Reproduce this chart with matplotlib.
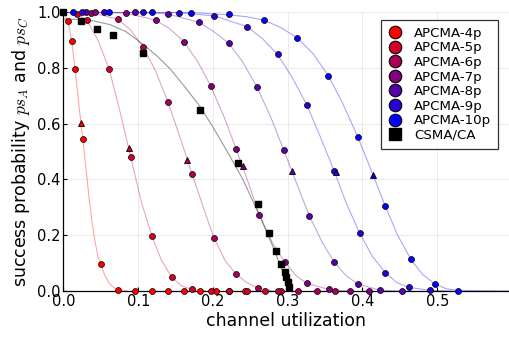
import matplotlib
matplotlib.use("Agg")
import matplotlib.pyplot as plt
from matplotlib.lines import Line2D

plt.rcParams['font.family'] = ['DejaVu Sans']
plt.rcParams['mathtext.fontset'] = 'cm'

# series names and colours (red -> blue)
labels = ['APCMA-4p', 'APCMA-5p', 'APCMA-6p', 'APCMA-7p', 'APCMA-8p', 'APCMA-9p', 'APCMA-10p']
colors = ['#ff0000', '#d5002a', '#aa0055', '#80007f', '#5500aa', '#2a00d5', '#0000ff']

# measured points (circles): channel utilization / success probability
x_4p = [0.006, 0.011, 0.0154, 0.0257, 0.0497, 0.073, 0.096, 0.118, 0.140, 0.161, 0.183, 0.204, 0.222, 0.243]
y_4p = [0.968, 0.897, 0.796, 0.546, 0.097, 0.005, 0, 0, 0, 0, 0, 0, 0, 0]
x_5p = [0.0184, 0.0313, 0.061, 0.090, 0.1184, 0.1449, 0.172, 0.197, 0.221, 0.246, 0.269, 0.291]
y_5p = [0.993, 0.970, 0.796, 0.480, 0.196, 0.049, 0.006, 0, 0, 0, 0, 0]
x_6p = [0.037, 0.073, 0.106, 0.1396, 0.172, 0.2016, 0.231, 0.260, 0.287, 0.3135, 0.339, 0.363]
y_6p = [0.998, 0.974, 0.876, 0.678, 0.419, 0.189, 0.06, 0.012, 0, 0, 0, 0]
x_7p = [0.0428, 0.0839, 0.1231, 0.161, 0.1967, 0.231, 0.262, 0.296, 0.326, 0.3546, 0.383, 0.409]
y_7p = [0.999, 0.996, 0.971, 0.894, 0.736, 0.509, 0.274, 0.105, 0.027, 0.006, 0, 0]
x_8p = [0.0304, 0.095, 0.1396, 0.1812, 0.221, 0.259, 0.2947, 0.329, 0.362, 0.3936, 0.4234, 0.4523]
y_8p = [1.0, 0.999, 0.993, 0.963, 0.888, 0.730, 0.505, 0.269, 0.104, 0.025, 0.003, 0]
x_9p = [0.025, 0.0548, 0.106, 0.155, 0.202, 0.2457, 0.2863, 0.3255, 0.362, 0.396, 0.4304, 0.4618, 0.4909]
y_9p = [1.0, 1.0, 0.999, 0.997, 0.986, 0.947, 0.848, 0.667, 0.431, 0.209, 0.066, 0.013, 0.002]
x_10p = [0.0124, 0.0606, 0.118, 0.171, 0.221, 0.268, 0.3126, 0.3545, 0.3936, 0.4304, 0.4646, 0.497, 0.528]
y_10p = [1.0, 1.0, 1.0, 0.998, 0.993, 0.971, 0.908, 0.771, 0.553, 0.305, 0.114, 0.025, 0.0]

# fitted curves
cx_4p = [0, 0.006, 0.011, 0.0154, 0.0205, 0.0257, 0.030, 0.034, 0.038, 0.042, 0.046, 0.0497, 0.055, 0.060, 0.065, 0.070, 0.075, 0.085]
cy_4p = [1.0, 0.968, 0.897, 0.796, 0.67, 0.546, 0.44, 0.34, 0.25, 0.18, 0.125, 0.097, 0.058, 0.033, 0.017, 0.008, 0.003, 0.0]
cx_5p = [0, 0.0184, 0.0313, 0.046, 0.061, 0.075, 0.090, 0.104, 0.1184, 0.131, 0.1449, 0.158, 0.172, 0.19]
cy_5p = [1.0, 0.993, 0.970, 0.90, 0.796, 0.65, 0.48, 0.32, 0.196, 0.11, 0.049, 0.018, 0.006, 0.0]
cx_6p = [0, 0.037, 0.073, 0.09, 0.106, 0.123, 0.1396, 0.156, 0.172, 0.187, 0.2016, 0.216, 0.231, 0.245, 0.260, 0.28]
cy_6p = [1.0, 0.998, 0.974, 0.935, 0.876, 0.79, 0.678, 0.55, 0.419, 0.30, 0.189, 0.11, 0.06, 0.03, 0.012, 0.0]
cx_7p = [0, 0.0428, 0.0839, 0.1231, 0.142, 0.161, 0.18, 0.1967, 0.214, 0.231, 0.247, 0.262, 0.28, 0.296, 0.311, 0.326, 0.3546, 0.38]
cy_7p = [1.0, 0.999, 0.996, 0.971, 0.94, 0.894, 0.82, 0.736, 0.63, 0.509, 0.39, 0.274, 0.17, 0.105, 0.055, 0.027, 0.006, 0.0]
cx_8p = [0, 0.0486, 0.095, 0.1396, 0.1812, 0.201, 0.221, 0.24, 0.259, 0.277, 0.2947, 0.312, 0.329, 0.346, 0.362, 0.378, 0.3936, 0.4234, 0.45]
cy_8p = [1.0, 1.0, 0.999, 0.993, 0.963, 0.93, 0.888, 0.82, 0.730, 0.625, 0.505, 0.385, 0.269, 0.175, 0.104, 0.055, 0.025, 0.003, 0.0]
cx_9p = [0, 0.0548, 0.106, 0.155, 0.202, 0.2457, 0.266, 0.2863, 0.306, 0.3255, 0.344, 0.362, 0.379, 0.396, 0.413, 0.4304, 0.446, 0.4618, 0.4909, 0.52]
cy_9p = [1.0, 1.0, 0.999, 0.997, 0.986, 0.947, 0.905, 0.848, 0.765, 0.667, 0.55, 0.431, 0.31, 0.209, 0.125, 0.066, 0.03, 0.013, 0.002, 0.0]
cx_10p = [0, 0.0606, 0.118, 0.171, 0.221, 0.245, 0.268, 0.29, 0.3126, 0.334, 0.3545, 0.374, 0.3936, 0.412, 0.4304, 0.447, 0.4646, 0.48, 0.497, 0.512, 0.528, 0.6]
cy_10p = [1.0, 1.0, 1.0, 0.998, 0.99, 0.983, 0.971, 0.945, 0.908, 0.85, 0.771, 0.67, 0.553, 0.43, 0.305, 0.2, 0.114, 0.06, 0.025, 0.008, 0.002, 0.0]

# triangles (one per APCMA series)
tri_x = [0.023, 0.0876, 0.165, 0.2397, 0.306, 0.3645, 0.414]
tri_y = [0.603, 0.511, 0.469, 0.448, 0.431, 0.425, 0.415]

# CSMA/CA
csma_x = [0.0, 0.023, 0.0444, 0.0658, 0.106, 0.183, 0.2334, 0.2602, 0.2752, 0.2843, 0.291, 0.2957, 0.298, 0.300, 0.3016]
csma_y = [1.0, 0.969, 0.939, 0.918, 0.854, 0.649, 0.46, 0.312, 0.209, 0.144, 0.097, 0.069, 0.049, 0.033, 0.015]
csma_cx = [0, 0.02, 0.04, 0.062, 0.084, 0.106, 0.124, 0.142, 0.162, 0.183, 0.2, 0.218, 0.24, 0.263, 0.28, 0.293, 0.303]
csma_cy = [0.975, 0.973, 0.968, 0.955, 0.929, 0.885, 0.845, 0.798, 0.733, 0.66, 0.587, 0.505, 0.40, 0.266, 0.16, 0.07, 0.0]

xs = [x_4p, x_5p, x_6p, x_7p, x_8p, x_9p, x_10p]
ys = [y_4p, y_5p, y_6p, y_7p, y_8p, y_9p, y_10p]
cxs = [cx_4p, cx_5p, cx_6p, cx_7p, cx_8p, cx_9p, cx_10p]
cys = [cy_4p, cy_5p, cy_6p, cy_7p, cy_8p, cy_9p, cy_10p]

fig = plt.figure(figsize=(5.1, 3.37), dpi=100)
ax = fig.add_axes([63.5 / 510, 1 - 291 / 337, 445.5 / 510, 279 / 337])

# curves first
for cx, cy, c in zip(cxs, cys, colors):
    ax.plot(cx, cy, color=c, alpha=0.35, lw=0.8, zorder=2)
ax.plot(csma_cx, csma_cy, color='black', alpha=0.4, lw=0.8, zorder=2)

# markers
for x, y, c in zip(xs, ys, colors):
    ax.plot(x, y, 'o', color=c, ms=4.3, mec='black', mew=0.5, clip_on=False, zorder=4)
for tx, ty, c in zip(tri_x, tri_y, colors):
    ax.plot(tx, ty, '^', color=c, ms=4.8, mec='black', mew=0.6, clip_on=False, zorder=5)
ax.plot(csma_x, csma_y, 's', color='black', ms=4.5, clip_on=False, zorder=5)

ax.set_xlim(0, 0.596)
ax.set_ylim(0, 1.0)
ax.set_xticks([0.0, 0.1, 0.2, 0.3, 0.4, 0.5])
ax.set_yticks([0.0, 0.2, 0.4, 0.6, 0.8, 1.0])
ax.set_xticklabels(['0.0', '0.1', '0.2', '0.3', '0.4', '0.5'])
ax.set_yticklabels(['0.0', '0.2', '0.4', '0.6', '0.8', '1.0'])
ax.tick_params(direction='in', length=3, width=0.8, labelsize=10.5, pad=2)
ax.grid(True, color='#e6e6e6', lw=0.6)
ax.set_axisbelow(True)
for s in ['top', 'right']:
    ax.spines[s].set_visible(False)
for s in ['left', 'bottom']:
    ax.spines[s].set_linewidth(0.9)

ax.set_xlabel('channel utilization', fontsize=12.5, labelpad=2)
ax.set_ylabel(r'success probability $ps_A$ and $ps_C$', fontsize=12.5, labelpad=4)

handles = [Line2D([], [], ls='none', marker='o', color=c, mec='black', mew=0.8, ms=9) for c in colors]
handles.append(Line2D([], [], ls='none', marker='s', color='black', ms=9))
leg = ax.legend(handles, labels + ['CSMA/CA'], loc='upper right', bbox_to_anchor=(0.975, 0.971),
                borderaxespad=0, fontsize=9.6, frameon=True, fancybox=False, handlelength=1.2,
                handletextpad=0.8, labelspacing=0.12, borderpad=0.5)
leg.get_frame().set_edgecolor('black')
leg.get_frame().set_linewidth(0.9)

fig.savefig('out.png', dpi=100)
